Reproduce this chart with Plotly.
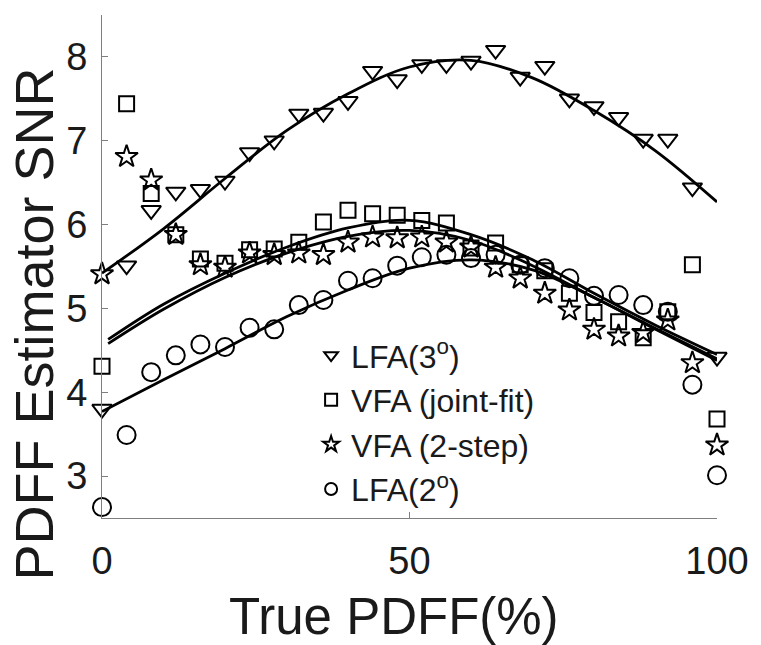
import plotly.graph_objects as go

# ---- data ----
x_pdff = [0, 4, 8, 12, 16, 20, 24, 28, 32, 36, 40, 44, 48, 52, 56, 60, 64, 68, 72, 76, 80, 84, 88, 92, 96, 100]

lfa3 = [3.80, 5.51, 6.17, 6.39, 6.42, 6.52, 6.86, 7.00, 7.32, 7.33, 7.47, 7.83, 7.73,
        7.91, 7.91, 7.95, 8.08, 7.76, 7.89, 7.50, 7.41, 7.28, 7.02, 7.02, 6.44, 4.42]
vfa_joint = [4.31, 7.44, 6.37, 5.88, 5.59, 5.54, 5.70, 5.71, 5.79, 6.03, 6.17, 6.13, 6.11,
             6.05, 6.02, 5.72, 5.78, 5.52, 5.45, 5.18, 4.95, 4.84, 4.65, 4.96, 5.52, 3.68]
vfa_2step = [5.41, 6.81, 6.53, 5.88, 5.52, 5.49, 5.66, 5.64, 5.66, 5.64, 5.79, 5.85, 5.84,
             5.85, 5.79, 5.73, 5.49, 5.36, 5.18, 4.98, 4.75, 4.67, 4.71, 4.86, 4.35, 3.37]
lfa2 = [2.63, 3.49, 4.24, 4.44, 4.57, 4.54, 4.77, 4.75, 5.04, 5.10, 5.33, 5.36, 5.51,
        5.61, 5.64, 5.60, 5.64, 5.52, 5.48, 5.36, 5.15, 5.16, 5.04, 4.96, 4.09, 3.01]

# fitted curves
x_fit = [0, 10, 20, 30, 40, 50, 60, 70, 80, 90, 100]
x_fit_mid = [1, 10, 20, 30, 40, 50, 60, 70, 80, 90, 100]
fit_lfa3 = [5.42, 5.95, 6.55, 7.12, 7.56, 7.88, 7.96, 7.75, 7.36, 6.88, 6.27]
fit_joint = [4.63, 5.05, 5.42, 5.73, 5.96, 6.05, 5.88, 5.58, 5.18, 4.80, 4.45]
fit_2step = [4.58, 4.99, 5.37, 5.66, 5.86, 5.93, 5.81, 5.51, 5.13, 4.76, 4.40]
fit_lfa2 = [3.77, 4.15, 4.52, 4.90, 5.22, 5.48, 5.58, 5.46, 5.13, 4.75, 4.38]

names = ["LFA(3<sup>o</sup>)", "VFA (joint-fit)", "VFA (2-step)", "LFA(2<sup>o</sup>)"]
x_ticks = [0, 50, 100]
y_ticks = [3, 4, 5, 6, 7, 8]

FONT = "Liberation Sans, Arial, sans-serif"
TXT = "#1a1a1a"

fig = go.Figure()

# fit lines
for xs, ys in [(x_fit, fit_lfa3), (x_fit_mid, fit_joint), (x_fit_mid, fit_2step), (x_fit, fit_lfa2)]:
    fig.add_trace(go.Scatter(x=xs, y=ys, mode="lines", showlegend=False,
                             line=dict(color="black", width=2.8, shape="spline", smoothing=1.0),
                             hoverinfo="skip"))

series = [
    (lfa3, "triangle-down-open", 17),
    (vfa_joint, "square-open", 15),
    (vfa_2step, "star-open", 17),
    (lfa2, "circle-open", 18),
]
for i, (ys, sym, sz) in enumerate(series):
    fig.add_trace(go.Scatter(x=x_pdff, y=ys, mode="markers", name=names[i],
                             legendgroup=f"g{i}", cliponaxis=False,
                             marker=dict(symbol=sym, size=sz, color="black",
                                         line=dict(color="black", width=2))))

fig.update_layout(
    width=761, height=645,
    margin=dict(l=102, r=39, t=15, b=127),
    paper_bgcolor="white", plot_bgcolor="white",
    font=dict(family=FONT, color=TXT),
    legend=dict(x=0.34, y=0.378, xanchor="left", yanchor="top",
                bgcolor="rgba(0,0,0,0)", font=dict(size=32, family=FONT, color=TXT),
                itemsizing="constant", tracegroupgap=0, itemwidth=30),
    xaxis=dict(range=[0, 100], tickvals=x_ticks, ticks="inside", ticklen=6,
               tickcolor="#7f7f7f", showline=True, linecolor="#7f7f7f", linewidth=1.2,
               showgrid=False, zeroline=False, tickfont=dict(size=38, color=TXT),
               ticklabelstandoff=9),
    yaxis=dict(range=[2.5, 8.5], tickvals=y_ticks, ticks="inside", ticklen=6,
               tickcolor="#7f7f7f", showline=True, linecolor="#7f7f7f", linewidth=1.2,
               showgrid=False, zeroline=False, tickfont=dict(size=38, color=TXT),
               ticklabelstandoff=6),
    annotations=[
        dict(text="True PDFF(%)", xref="paper", yref="paper", x=0.474, y=-0.196,
             xanchor="center", yanchor="middle", showarrow=False,
             font=dict(size=51, family=FONT, color=TXT)),
        dict(text="PDFF Estimator SNR", xref="paper", yref="paper", x=-0.111, y=0.386,
             xanchor="center", yanchor="middle", showarrow=False, textangle=-90,
             font=dict(size=54, family=FONT, color=TXT)),
    ],
)

fig.write_html("out.html")
